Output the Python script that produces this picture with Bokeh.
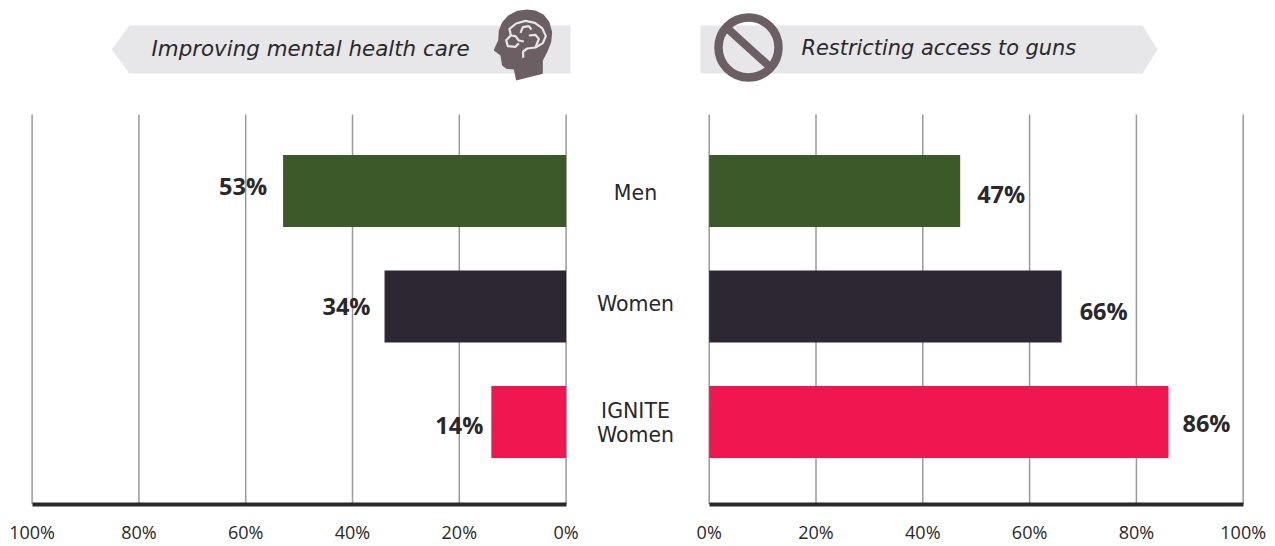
from bokeh.plotting import figure
from bokeh.layouts import row
from bokeh.models import Range1d, LinearAxis, FixedTicker
from bokeh.core.properties import value
from bokeh.embed import file_html
from bokeh.resources import INLINE

categories = ["Men", "Women", "IGNITE\nWomen"]
mental_health = [53, 34, 14]
restrict_guns = [47, 66, 86]
bar_colors = ["#3c5a29", "#2d2733", "#f01650"]
tick_values = [0, 20, 40, 60, 80, 100]
tick_labels = {v: f"{v}%" for v in tick_values}
title_left = "Improving mental health care"
title_right = "Restricting access to guns"

TOP, BASE = 0, 504
FIG_H = 546
PX = 5.34  # page px per percent
ROW = 115.5
Y_LAST = 421.6
y_pos = [2, 1, 0]
y_range = Range1d(-(BASE - Y_LAST) / ROW, (Y_LAST - TOP) / ROW)

BANNER = "#e7e6e8"
ICON = "#6c5f63"
TEXT = "#2a282b"
GRID = "#9a9a9a"


def py(v):
    return (Y_LAST - v) / ROW


def make(x0_page, x1_page, zero_page, sign):
    fx = lambda px: (px - zero_page) / (PX * sign)
    p = figure(width=x1_page - x0_page, height=FIG_H, output_backend="svg", toolbar_location=None,
               x_range=Range1d(fx(x0_page), fx(x1_page)), y_range=y_range,
               x_axis_type=None, y_axis_type=None,
               min_border_left=0, min_border_right=0, min_border_top=0, min_border_bottom=FIG_H - (BASE - TOP),
               outline_line_color=None)
    p.grid.visible = False
    ticker = FixedTicker(ticks=tick_values)
    ax = LinearAxis(ticker=ticker, major_label_overrides=tick_labels,
                    bounds=(0, 100), axis_line_color="#2a282b", axis_line_width=4,
                    major_tick_in=0, major_tick_out=0, major_tick_line_color=None,
                    minor_tick_line_color=None,
                    major_label_text_font="Open Sans", major_label_text_font_size="18px",
                    major_label_text_color=TEXT, major_label_standoff=15)
    p.add_layout(ax, "below")
    p.segment(tick_values, [py(BASE)] * 6, tick_values, [py(114)] * 6, line_color=GRID, line_width=1.5)
    return p, fx


left, fl = make(0, 585, 565.6, -1)
mid = figure(width=107, height=FIG_H, output_backend="svg", toolbar_location=None,
             x_range=Range1d(0, 107), y_range=y_range, x_axis_type=None, y_axis_type=None,
             min_border_left=0, min_border_right=0, min_border_top=0, min_border_bottom=FIG_H - (BASE - TOP),
             outline_line_color=None)
mid.grid.visible = False
right, fr = make(692, 1270, 708.7, 1)

# banners
left.patch([fl(x) for x in (111, 129, 570, 570, 129)], [py(y) for y in (49, 25, 25, 73, 73)],
           fill_color=BANNER, line_color=None)
right.patch([fr(x) for x in (700, 1142, 1157, 1142, 700)], [py(y) for y in (25, 25, 49, 73, 73)],
            fill_color=BANNER, line_color=None)
left.text([fl(151)], [py(47.5)], text=[title_left], text_font=value("DejaVu Sans"), text_font_style="italic",
          text_font_size="21.4px", text_color=TEXT, text_baseline="middle", text_align="left")
right.text([fr(801)], [py(47.5)], text=[title_right], text_font=value("DejaVu Sans"), text_font_style="italic",
           text_font_size="20.9px", text_color=TEXT, text_baseline="middle", text_align="left")

# head icon
head = [(125, 12), (150, 15), (175, 28), (192, 50), (200, 80), (197, 110), (185, 140), (172, 165), (172, 205),
        (92, 225), (85, 192), (62, 190), (50, 180), (47, 165), (45, 150), (25, 135), (27, 128), (38, 105),
        (40, 75), (50, 50), (68, 30), (95, 16)]
left.patch([fl(485 + a / 3) for a, b in head], [py(5 + b / 3) for a, b in head], fill_color=ICON, line_color=None)
brain = [
    [(113, 157), (113, 138), (125, 129), (150, 126), (172, 113), (181, 92), (170, 68), (148, 52), (120, 46), (92, 54), (72, 70), (76, 90), (62, 104), (67, 122), (90, 124), (100, 113)],
    [(76, 90), (90, 92), (100, 105), (115, 108)],
    [(105, 82), (112, 65), (130, 62), (138, 72)],
    [(130, 90), (150, 88), (160, 100), (150, 126)],
]
left.multi_line([[fl(485 + a / 3) for a, b in s] for s in brain], [[py(5 + b / 3) for a, b in s] for s in brain],
                line_color=BANNER, line_width=2.2, line_join="round")

# prohibition icon
right.scatter([fr(748)], [py(47)], marker="circle", size=60, fill_color=None, line_color=ICON, line_width=8.5)
right.segment([fr(727)], [py(28)], [fr(769)], [py(66)], line_color=ICON, line_width=8)

# bars
HB = 72 / ROW / 2
left.quad(left=mental_health, right=[0] * 3, bottom=[y - HB for y in y_pos], top=[y + HB for y in y_pos],
          fill_color=bar_colors, line_color=None)
right.quad(left=[0] * 3, right=restrict_guns, bottom=[y - HB for y in y_pos], top=[y + HB for y in y_pos],
           fill_color=bar_colors, line_color=None)

left.text(mental_health, y_pos, text=[f"{v}%" for v in mental_health], text_font=value("Open Sans"),
          text_font_style="bold", text_font_size="23.5px", text_color=TEXT, text_align="right", text_baseline="middle",
          x_offset=[-16, -14, -8], y_offset=[-5, -1, 3])
right.text(restrict_guns, y_pos, text=[f"{v}%" for v in restrict_guns], text_font=value("Open Sans"),
           text_font_style="bold", text_font_size="23.5px", text_color=TEXT, text_align="left", text_baseline="middle",
           x_offset=[17, 18, 14], y_offset=[3, 4, 1])

# category labels
mid.text([635 - 585] * 3, y_pos, text=categories, text_font=value("DejaVu Sans"), text_font_size="20.5px",
         text_color=TEXT, text_align="center", text_baseline="middle", text_line_height=1.0,
         y_offset=[2, -3, 1])

page = row(left, mid, right, spacing=0)
open("out.html", "w").write(file_html(page, INLINE))
